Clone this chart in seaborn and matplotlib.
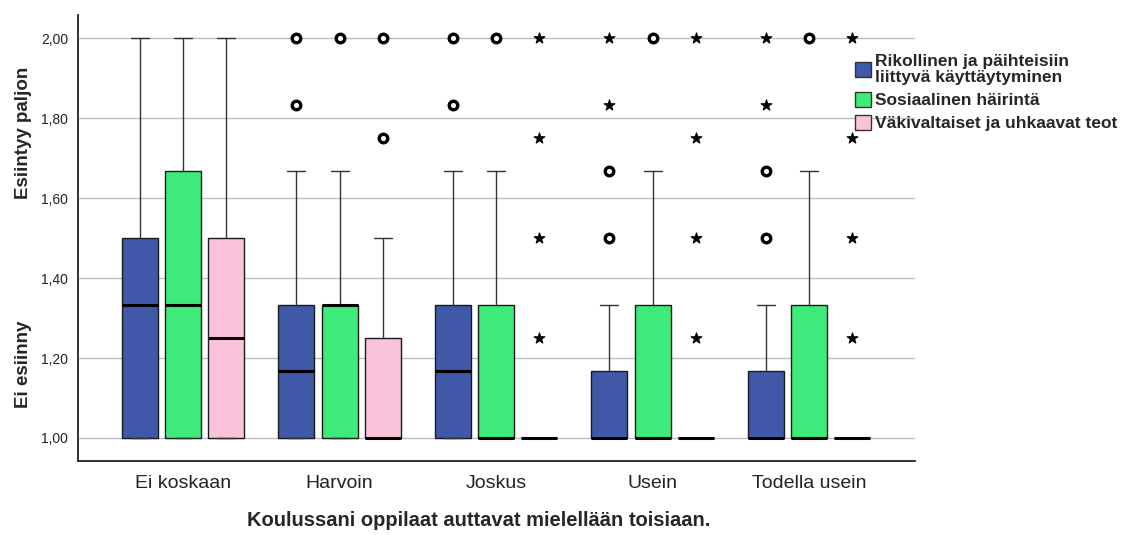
import numpy as np
import pandas as pd
import matplotlib
matplotlib.use('Agg')
import matplotlib.pyplot as plt
import seaborn as sns
from matplotlib.patches import Patch

categories = ["Ei koskaan", "Harvoin", "Joskus", "Usein", "Todella usein"]
series = ["Rikollinen ja päihteisiin\nliittyvä käyttäytyminen",
          "Sosiaalinen häirintä",
          "Väkivaltaiset ja uhkaavat teot"]
colors = ["#3F59A8", "#3DEA7A", "#FBC3DB"]

# box stats per series, one value per category
rik_q1 = [1.0, 1.0, 1.0, 1.0, 1.0]
rik_med = [1.333, 1.167, 1.167, 1.0, 1.0]
rik_q3 = [1.5, 1.333, 1.333, 1.167, 1.167]
rik_lo = [1.0, 1.0, 1.0, 1.0, 1.0]
rik_hi = [2.0, 1.667, 1.667, 1.333, 1.333]

sos_q1 = [1.0, 1.0, 1.0, 1.0, 1.0]
sos_med = [1.333, 1.333, 1.0, 1.0, 1.0]
sos_q3 = [1.667, 1.333, 1.333, 1.333, 1.333]
sos_lo = [1.0, 1.0, 1.0, 1.0, 1.0]
sos_hi = [2.0, 1.667, 1.667, 1.667, 1.667]

vak_q1 = [1.0, 1.0, 1.0, 1.0, 1.0]
vak_med = [1.25, 1.0, 1.0, 1.0, 1.0]
vak_q3 = [1.5, 1.25, 1.0, 1.0, 1.0]
vak_lo = [1.0, 1.0, 1.0, 1.0, 1.0]
vak_hi = [2.0, 1.5, 1.0, 1.0, 1.0]

# outliers: category index, series index, value, kind (o = outlier, * = extreme)
out_cat = [1, 1, 1, 1, 1,
           2, 2, 2, 2, 2, 2, 2,
           3, 3, 3, 3, 3, 3, 3, 3, 3,
           4, 4, 4, 4, 4, 4, 4, 4, 4]
out_ser = [0, 0, 1, 2, 2,
           0, 0, 1, 2, 2, 2, 2,
           0, 0, 0, 0, 1, 2, 2, 2, 2,
           0, 0, 0, 0, 1, 2, 2, 2, 2]
out_val = [2.0, 1.833, 2.0, 2.0, 1.75,
           2.0, 1.833, 2.0, 2.0, 1.75, 1.5, 1.25,
           1.5, 1.667, 1.833, 2.0, 2.0, 2.0, 1.75, 1.5, 1.25,
           1.5, 1.667, 1.833, 2.0, 2.0, 2.0, 1.75, 1.5, 1.25]
out_kind = ["o", "o", "o", "o", "o",
            "o", "o", "o", "*", "*", "*", "*",
            "o", "o", "*", "*", "o", "*", "*", "*", "*",
            "o", "o", "*", "*", "o", "*", "*", "*", "*"]

sns.set_style('white')
plt.rcParams['font.family'] = ['Liberation Sans', 'DejaVu Sans']

fig = plt.figure(figsize=(11.33, 5.35), dpi=100)
ax = fig.add_axes([78 / 1133, 74 / 535, (915 - 78) / 1133, (461 - 15) / 535])

offsets = [-0.275, 0.0, 0.275]
all_stats = [
    (rik_q1, rik_med, rik_q3, rik_lo, rik_hi),
    (sos_q1, sos_med, sos_q3, sos_lo, sos_hi),
    (vak_q1, vak_med, vak_q3, vak_lo, vak_hi),
]
for s, (q1, med, q3, lo, hi) in enumerate(all_stats):
    stats = [dict(q1=q1[i], med=med[i], q3=q3[i], whislo=lo[i], whishi=hi[i], fliers=[])
             for i in range(len(categories))]
    ax.bxp(stats, positions=np.arange(len(categories)) + offsets[s], widths=0.23,
           capwidths=0.115, patch_artist=True, showfliers=False, manage_ticks=False,
           boxprops=dict(facecolor=colors[s], edgecolor='#1a1a1a', linewidth=1),
           medianprops=dict(color='black', linewidth=2.2, solid_capstyle='butt'),
           whiskerprops=dict(color='#333333', linewidth=1),
           capprops=dict(color='#333333', linewidth=1))

outliers = pd.DataFrame({'cat': out_cat, 'ser': out_ser, 'value': out_val, 'kind': out_kind})
outliers['x'] = outliers['cat'] + outliers['ser'].map(lambda k: offsets[k])

sns.scatterplot(data=outliers[outliers['kind'] == 'o'], x='x', y='value', marker='o', s=38,
                color='white', edgecolor='black', linewidth=2.4, ax=ax, zorder=5, legend=False)
sns.scatterplot(data=outliers[outliers['kind'] == '*'], x='x', y='value', marker='*', s=65,
                color='black', edgecolor='black', linewidth=0.8, ax=ax, zorder=5, legend=False)

ax.set_xlim(-0.671, 4.677)
ax.set_ylim(0.9425, 2.0575)
yt = np.arange(1.0, 2.01, 0.2)
ax.set_yticks(yt, [f"{v:.2f}".replace('.', ',') for v in yt], fontsize=10)
ax.set_xticks(range(len(categories)), categories, fontsize=14)
ax.tick_params(axis='both', length=0)
ax.tick_params(axis='x', pad=10, colors='#222222')
ax.tick_params(axis='y', pad=7, colors='#222222')
ax.set_xlabel('')
ax.set_ylabel('')
ax.yaxis.grid(True, color='#bdbdbd', linewidth=1)
ax.set_axisbelow(True)
for side in ['top', 'right']:
    ax.spines[side].set_visible(False)
for side in ['left', 'bottom']:
    ax.spines[side].set_color('#222222')
    ax.spines[side].set_linewidth(1.3)

fig.text(479 / 1133, 1 - 520 / 535, "Koulussani oppilaat auttavat mielellään toisiaan.",
         ha='center', va='center', fontsize=14.5, fontweight='bold')
fig.text(23 / 1133, 1 - 133 / 535, "Esiintyy paljon", rotation=90,
         ha='center', va='center', fontsize=13.5, fontweight='bold')
fig.text(23 / 1133, 1 - 364 / 535, "Ei esiinny", rotation=90,
         ha='center', va='center', fontsize=13.5, fontweight='bold')

handles = [Patch(facecolor=c, edgecolor='#333333', linewidth=1) for c in colors]
fig.legend(handles, series, loc='upper left', bbox_to_anchor=(855 / 1133, 1 - 54 / 535),
           frameon=False, prop=dict(weight='bold', size=12.5), handlelength=0.95,
           handleheight=0.95, handletextpad=0.2, labelspacing=0.4, borderpad=0,
           borderaxespad=0)
plt.setp(fig.legends[0].get_texts(), linespacing=1.05)

fig.savefig('out.png', dpi=100)
